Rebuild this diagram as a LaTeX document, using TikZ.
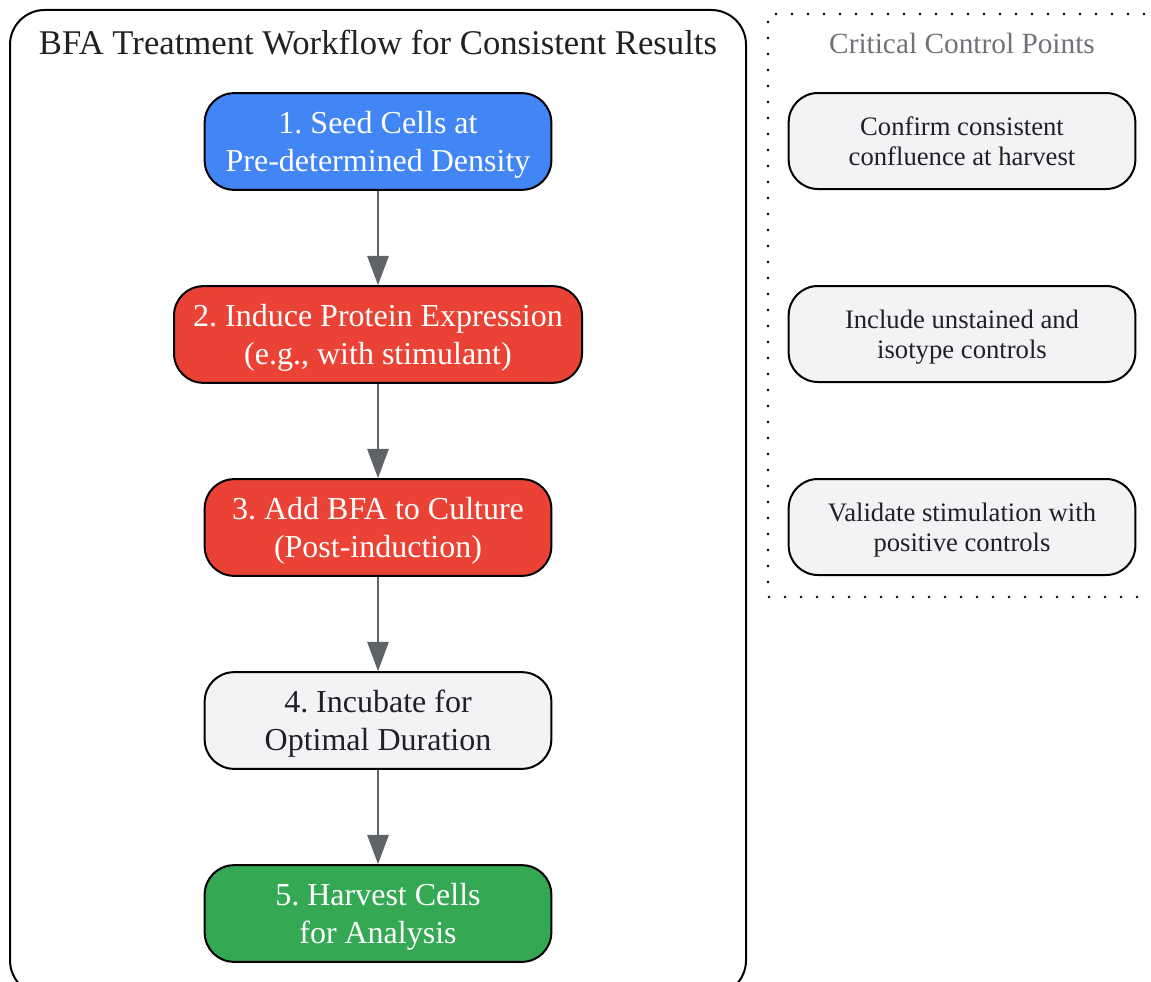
\documentclass[tikz,border=0pt]{standalone}
\usepackage{fontspec}
\setmainfont{Liberation Serif}
\frenchspacing
\usetikzlibrary{arrows.meta}
\definecolor{stepblue}{RGB}{66,133,244}
\definecolor{stepred}{RGB}{234,67,53}
\definecolor{stepgreen}{RGB}{52,168,83}
\definecolor{stepgray}{RGB}{241,243,244}
\definecolor{textdark}{RGB}{32,33,36}
\definecolor{arrowgray}{RGB}{95,99,104}

\begin{document}
\begin{tikzpicture}[x=0.75pt, y=-0.75pt,
    stepbox/.style={draw=black, line width=1.5pt, rounded corners=22pt,
        minimum width=260pt, minimum height=72.5pt, align=center,
        text depth=0pt, font=\fontsize{24}{28.5}\selectfont},
    checkbox/.style={draw=black, line width=1.5pt, rounded corners=22pt,
        fill=stepgray, text=textdark, minimum width=260pt, minimum height=72pt,
        align=center, text depth=0pt, font=\fontsize{20}{22.5}\selectfont},
    flow/.style={draw=arrowgray, line width=1.5pt,
        -{Triangle[width=16pt,length=22pt]}}]

    % Fix the page size
    \useasboundingbox (0,0) rectangle (1151,981);

    % Workflow cluster
    \draw[line width=1.5pt, rounded corners=26pt] (10,10) rectangle (746,995);
    \node[text=textdark, font=\fontsize{26}{30}\selectfont] (wftitle) at (378,43)
        {BFA Treatment Workflow for Consistent Results};

    % Control points cluster (dotted)
    \draw[line width=2pt, line cap=round, dash pattern=on 0pt off 12pt]
        (1160,14) -- (768,14) -- (768,597) -- (1160,597);
    \node[text=arrowgray!90, font=\fontsize{22}{26}\selectfont] (cptitle) at (962,43)
        {Critical Control Points};

    % Workflow steps
    \node[stepbox, fill=stepblue, text=white] (seed) at (378,141.5)
        {1. Seed Cells at\\Pre-determined Density};
    \node[stepbox, fill=stepred, text=white, minimum width=306pt] (induce) at (378,334.5)
        {2. Induce Protein Expression\\(e.g., with stimulant)};
    \node[stepbox, fill=stepred, text=white] (addbfa) at (378,527.5)
        {3. Add BFA to Culture\\(Post-induction)};
    \node[stepbox, fill=stepgray, text=textdark] (incubate) at (378,720.5)
        {4. Incubate for\\Optimal Duration};
    \node[stepbox, fill=stepgreen, text=white] (harvest) at (378,913.5)
        {5. Harvest Cells\\for Analysis};

    % Control checks
    \node[checkbox] (confluence) at (962,141)
        {Confirm consistent\\confluence at harvest};
    \node[checkbox] (isotype) at (962,334)
        {Include unstained and\\isotype controls};
    \node[checkbox] (positive) at (962,527)
        {Validate stimulation with\\positive controls};

    % Arrows between steps
    \draw[flow] (seed) -- (induce);
    \draw[flow] (induce) -- (addbfa);
    \draw[flow] (addbfa) -- (incubate);
    \draw[flow] (incubate) -- (harvest);

\end{tikzpicture}
\end{document}
